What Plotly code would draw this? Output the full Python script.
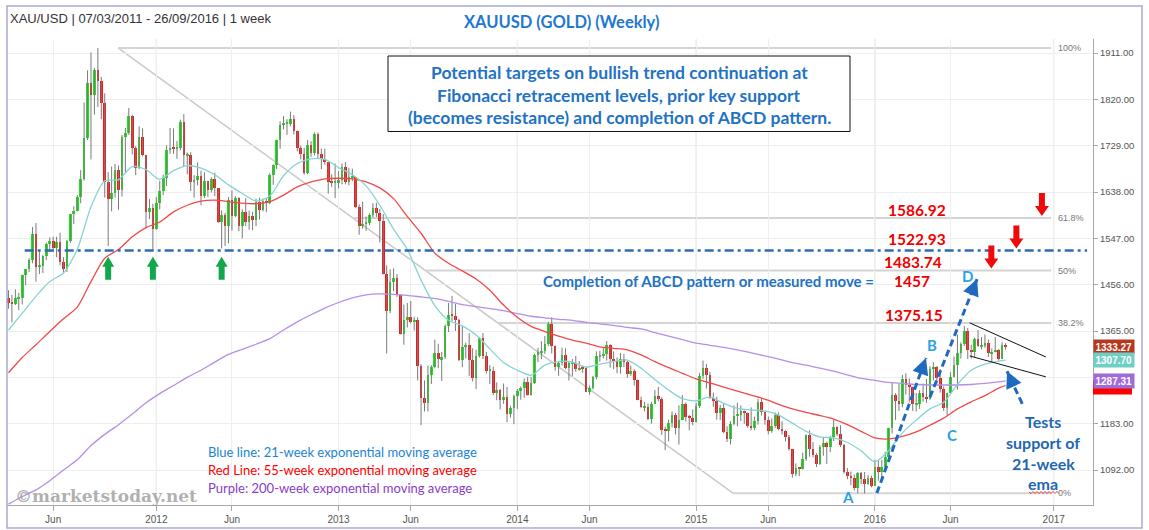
import pandas as pd
import plotly.graph_objects as go

# ---------------- data ----------------
week_start = '2011-03-07'
n_weeks = 291
first_open = 1429

close_2011 = [1421, 1419, 1429, 1429, 1475, 1486, 1504, 1556, 1491, 1493, 1512, 1536, 1542, 1529, 1539,
              1501, 1486, 1542, 1594, 1601, 1628, 1663, 1744, 1852, 1829, 1877, 1857, 1813, 1657, 1624,
              1636, 1682, 1642, 1747, 1753, 1788, 1725, 1686, 1746, 1711, 1598, 1606, 1566]
high_2011 = [1445, 1436, 1447, 1440, 1476, 1487, 1508, 1569, 1577, 1522, 1514, 1539, 1549, 1550, 1550,
             1558, 1510, 1544, 1595, 1610, 1632, 1681, 1814, 1877, 1912, 1882, 1921, 1864, 1832, 1677,
             1688, 1693, 1690, 1750, 1764, 1803, 1790, 1728, 1767, 1763, 1711, 1624, 1615]
low_2011 = [1409, 1382, 1416, 1406, 1417, 1455, 1481, 1498, 1462, 1477, 1479, 1504, 1520, 1520, 1510,
            1494, 1478, 1481, 1538, 1575, 1600, 1616, 1660, 1740, 1702, 1790, 1805, 1781, 1627, 1532,
            1600, 1627, 1603, 1629, 1675, 1750, 1712, 1671, 1683, 1708, 1567, 1585, 1523]

close_2012 = [1617, 1640, 1665, 1721, 1725, 1724, 1724, 1776, 1710, 1710, 1657, 1662, 1669, 1631, 1660,
              1642, 1663, 1645, 1580, 1592, 1572, 1622, 1590, 1626, 1572, 1598, 1579, 1591, 1583, 1619,
              1603, 1620, 1616, 1671, 1691, 1740, 1770, 1772, 1772, 1781, 1757, 1725, 1712, 1676, 1731,
              1714, 1751, 1712, 1702, 1697, 1657, 1656, 1656]
high_2012 = [1628, 1660, 1672, 1730, 1764, 1763, 1738, 1780, 1791, 1716, 1716, 1671, 1696, 1680, 1677,
             1660, 1667, 1676, 1646, 1602, 1597, 1628, 1641, 1630, 1628, 1604, 1626, 1601, 1599, 1625,
             1627, 1625, 1626, 1675, 1692, 1741, 1777, 1787, 1781, 1796, 1789, 1759, 1729, 1725, 1740,
             1738, 1755, 1755, 1723, 1723, 1697, 1673, 1694]
low_2012 = [1564, 1604, 1632, 1650, 1713, 1713, 1703, 1720, 1689, 1673, 1640, 1627, 1651, 1612, 1626,
            1628, 1637, 1630, 1577, 1527, 1532, 1537, 1562, 1589, 1561, 1547, 1571, 1564, 1563, 1571,
            1584, 1600, 1598, 1614, 1652, 1683, 1723, 1761, 1750, 1767, 1751, 1718, 1702, 1672, 1673,
            1707, 1710, 1705, 1683, 1692, 1635, 1648, 1626]

close_2013 = [1662, 1687, 1658, 1667, 1667, 1609, 1572, 1576, 1577, 1592, 1607, 1596, 1581, 1476, 1404,
              1462, 1470, 1436, 1360, 1386, 1393, 1383, 1387, 1297, 1234, 1223, 1278, 1294, 1322, 1310,
              1313, 1375, 1396, 1395, 1387, 1308, 1333, 1338, 1309, 1272, 1315, 1352, 1315, 1287, 1287,
              1243, 1250, 1230, 1235, 1203, 1213, 1237]
high_2013 = [1679, 1694, 1697, 1685, 1684, 1668, 1614, 1619, 1590, 1596, 1616, 1617, 1605, 1595, 1494,
             1486, 1488, 1477, 1436, 1417, 1420, 1424, 1393, 1392, 1300, 1268, 1297, 1298, 1348, 1340,
             1324, 1378, 1420, 1434, 1418, 1389, 1375, 1342, 1361, 1331, 1328, 1353, 1361, 1324, 1298,
             1295, 1264, 1251, 1262, 1255, 1218, 1240]
low_2013 = [1645, 1653, 1653, 1651, 1659, 1606, 1554, 1566, 1562, 1573, 1588, 1589, 1539, 1476, 1321,
            1400, 1443, 1432, 1358, 1338, 1372, 1380, 1366, 1268, 1180, 1207, 1207, 1261, 1292, 1292,
            1267, 1310, 1363, 1384, 1365, 1306, 1294, 1311, 1277, 1266, 1251, 1313, 1310, 1281, 1261,
            1239, 1229, 1211, 1222, 1186, 1195, 1182]

close_2014 = [1248, 1254, 1265, 1240, 1263, 1318, 1323, 1326, 1339, 1379, 1335, 1294, 1303, 1318, 1293,
              1302, 1302, 1290, 1293, 1292, 1245, 1253, 1274, 1315, 1316, 1320, 1337, 1310, 1307, 1294,
              1311, 1305, 1281, 1287, 1268, 1229, 1215, 1215, 1192, 1222, 1238, 1231, 1171, 1169, 1185,
              1201, 1175, 1191, 1222, 1196, 1195, 1187]
high_2014 = [1251, 1256, 1272, 1275, 1275, 1320, 1332, 1345, 1355, 1383, 1392, 1337, 1305, 1332, 1331,
             1306, 1310, 1316, 1306, 1297, 1295, 1258, 1277, 1325, 1326, 1332, 1345, 1339, 1325, 1313,
             1322, 1320, 1306, 1297, 1290, 1270, 1236, 1226, 1223, 1226, 1249, 1255, 1235, 1177, 1191,
             1207, 1204, 1219, 1239, 1225, 1200, 1211]
low_2014 = [1212, 1230, 1234, 1238, 1238, 1261, 1304, 1310, 1320, 1335, 1321, 1287, 1277, 1297, 1290,
            1268, 1277, 1285, 1287, 1283, 1245, 1240, 1250, 1270, 1305, 1311, 1307, 1293, 1290, 1282,
            1281, 1294, 1273, 1277, 1258, 1229, 1214, 1207, 1190, 1183, 1222, 1227, 1161, 1131, 1148,
            1176, 1162, 1142, 1190, 1187, 1170, 1180]

close_2015 = [1217, 1277, 1293, 1278, 1234, 1227, 1204, 1213, 1166, 1152, 1182, 1199, 1201, 1207, 1204,
              1178, 1174, 1189, 1225, 1205, 1190, 1168, 1179, 1201, 1173, 1168, 1157, 1133, 1085, 1095,
              1094, 1113, 1160, 1134, 1121, 1103, 1138, 1145, 1137, 1156, 1177, 1163, 1142, 1088, 1081,
              1076, 1057, 1086, 1075, 1065, 1076, 1061]
high_2015 = [1224, 1283, 1307, 1300, 1285, 1244, 1236, 1220, 1223, 1178, 1188, 1219, 1224, 1219, 1209,
             1205, 1215, 1197, 1232, 1232, 1207, 1197, 1193, 1205, 1205, 1188, 1170, 1161, 1133, 1105,
             1098, 1126, 1162, 1170, 1147, 1125, 1141, 1157, 1148, 1159, 1191, 1178, 1180, 1143, 1096,
             1089, 1083, 1088, 1088, 1088, 1082, 1081]
low_2015 = [1185, 1214, 1271, 1252, 1232, 1216, 1191, 1190, 1164, 1147, 1142, 1180, 1178, 1188, 1183,
            1175, 1170, 1170, 1181, 1199, 1181, 1162, 1165, 1175, 1170, 1162, 1148, 1130, 1077, 1080,
            1080, 1093, 1110, 1118, 1117, 1098, 1102, 1120, 1104, 1127, 1149, 1159, 1137, 1085, 1074,
            1062, 1052, 1046, 1064, 1046, 1063, 1058]

close_2016 = [1098, 1089, 1097, 1118, 1174, 1239, 1228, 1221, 1271, 1259, 1255, 1221, 1222, 1243, 1235,
              1232, 1291, 1294, 1272, 1252, 1213, 1243, 1275, 1298, 1322, 1340, 1366, 1327, 1323, 1350,
              1335, 1336, 1341, 1321, 1324, 1328, 1310, 1338, 1333.27]
high_2016 = [1112, 1112, 1112, 1128, 1175, 1263, 1243, 1261, 1279, 1282, 1272, 1256, 1243, 1249, 1262,
             1271, 1296, 1304, 1296, 1290, 1256, 1244, 1284, 1315, 1358, 1343, 1375, 1371, 1338, 1352,
             1367, 1353, 1358, 1348, 1331, 1353, 1330, 1343, 1341]
low_2016 = [1061, 1071, 1078, 1096, 1110, 1164, 1190, 1208, 1215, 1240, 1225, 1208, 1207, 1212, 1226,
            1224, 1230, 1268, 1261, 1244, 1208, 1200, 1243, 1274, 1250, 1311, 1336, 1310, 1311, 1313,
            1334, 1329, 1332, 1314, 1303, 1323, 1307, 1310, 1328]

# moving averages read every 4th week (plus the last week)
ema21 = [1367, 1400, 1433, 1462, 1479, 1525, 1609, 1660, 1662, 1688,
         1682, 1663, 1680, 1690, 1685, 1672, 1652, 1635, 1620, 1630,
         1670, 1694, 1703, 1702, 1686, 1672, 1650, 1612, 1565, 1525,
         1465, 1415, 1386, 1375, 1357, 1330, 1303, 1288, 1278, 1298,
         1305, 1304, 1294, 1300, 1305, 1308, 1292, 1270, 1249, 1232,
         1228, 1235, 1223, 1213, 1210, 1208, 1200, 1184, 1168, 1157,
         1155, 1146, 1130, 1108, 1130, 1165, 1190, 1212, 1225, 1260,
         1288, 1300, 1306, 1308]
ema55 = [1283, 1313, 1338, 1364, 1389, 1412, 1462, 1508, 1525, 1550,
         1568, 1579, 1599, 1612, 1620, 1622, 1619, 1616, 1615, 1619,
         1632, 1648, 1658, 1664, 1665, 1664, 1658, 1646, 1625, 1590,
         1557, 1518, 1498, 1483, 1467, 1445, 1416, 1392, 1374, 1364,
         1355, 1347, 1341, 1334, 1331, 1328, 1318, 1305, 1293, 1282,
         1271, 1263, 1255, 1247, 1239, 1231, 1221, 1212, 1205, 1199,
         1192, 1181, 1168, 1155, 1153, 1158, 1167, 1180, 1194, 1212,
         1226, 1238, 1253, 1258]
ema200 = [1025, 1040, 1053, 1071, 1092, 1112, 1140, 1162, 1181, 1202,
          1224, 1242, 1258, 1274, 1288, 1304, 1319, 1329, 1339, 1350,
          1367, 1383, 1397, 1410, 1421, 1430, 1436, 1438, 1437, 1435,
          1432, 1429, 1423, 1417, 1413, 1409, 1405, 1399, 1394, 1391,
          1388, 1386, 1382, 1379, 1376, 1372, 1369, 1362, 1355, 1348,
          1341, 1337, 1333, 1328, 1322, 1316, 1310, 1303, 1298, 1292,
          1286, 1279, 1272, 1268, 1264, 1262, 1260, 1259, 1259, 1259,
          1260, 1262, 1265, 1267]

tag_texts = ['1333.27', '1307.70', '1287.31']

fib_high, fib_low = 1920.94, 1046.54
fib_ratios = [1.0, 0.618, 0.5, 0.382, 0.0]
fib_labels = ['100%', '61.8%', '50%', '38.2%', '0%']
fib_dates = ['2011-10-16', '2015-03-21', '2016-12-28']   # trend start, trend end, level end

support_level = 1522.93
support_dates = ['2011-04-09', '2017-03-11']
support_touch_dates = ['2011-09-26', '2011-12-26', '2012-05-14']
support_arrow_tip = 1511

target_levels = [1586.92, 1522.93, 1483.74]
target_arrow_dates = ['2016-12-09', '2016-10-18', '2016-08-28']

leg_ab = [('2016-01-08', 1046.8), ('2016-04-17', 1312)]
leg_cd = [('2016-04-25', 1235), ('2016-07-30', 1467)]
test_arrow = [('2016-10-30', 1222), ('2016-09-29', 1286)]
tri_upper = [('2016-07-15', 1381), ('2016-12-17', 1314)]
tri_lower = [('2016-07-15', 1316), ('2016-12-17', 1275)]

tick_dates = ['2011-06-06', '2012-01-02', '2012-06-04', '2013-01-07', '2013-06-03', '2014-01-06',
              '2014-06-02', '2015-01-05', '2015-06-01', '2016-01-04', '2016-06-06', '2017-01-02']
tick_text = ['Jun', '2012', 'Jun', '2013', 'Jun', '2014', 'Jun', '2015', 'Jun', '2016', 'Jun', '2017']
price_ticks = [1092, 1183, 1274, 1365, 1456, 1547, 1638, 1729, 1820, 1911]
hidden_price_ticks = [1274]   # covered by the price tags in the reference
y_range = [1023.3, 1938.5]

# ---------------- derived ----------------
closes = close_2011 + close_2012 + close_2013 + close_2014 + close_2015 + close_2016
highs = high_2011 + high_2012 + high_2013 + high_2014 + high_2015 + high_2016
lows = low_2011 + low_2012 + low_2013 + low_2014 + low_2015 + low_2016
dates = pd.date_range(week_start, periods=n_weeks, freq='7D')
opens = [first_open] + closes[:-1]
ema_dates = list(dates[::4]) + [dates[-1]]
price_tick_text = ['' if v in hidden_price_ticks else '%.2f' % v for v in price_ticks]

# ---------------- geometry helpers (pixels -> paper) ----------------
W, H = 1149, 530
PL, PR, PT, PB = 7, 1093, 39, 505


def PX(x):
    return (x - PL) / (PR - PL)


def PY(y):
    return (PB - y) / (PB - PT)


def price_to_paper(p):
    return (p - y_range[0]) / (y_range[1] - y_range[0])


GREEN = '#19e619'
RED = '#ff1414'
WICK = '#7a7a7a'

fig = go.Figure()

# wicks
wx, wy = [], []
for d, lo, hi in zip(dates, lows, highs):
    wx += [d, d, None]
    wy += [lo, hi, None]
fig.add_trace(go.Scatter(x=wx, y=wy, mode='lines', line=dict(color=WICK, width=1), hoverinfo='skip'))

# bodies
up_x, up_b, up_h, dn_x, dn_b, dn_h = [], [], [], [], [], []
for d, o, c in zip(dates, opens, closes):
    h = max(abs(c - o), 2.0)
    if c >= o:
        up_x.append(d); up_b.append(min(o, c)); up_h.append(h)
    else:
        dn_x.append(d); dn_b.append(min(o, c)); dn_h.append(h)
bw = 5.4 * 86400000
fig.add_trace(go.Bar(x=up_x, y=up_h, base=up_b, width=bw, marker=dict(color=GREEN, line=dict(width=0))))
fig.add_trace(go.Bar(x=dn_x, y=dn_h, base=dn_b, width=bw, marker=dict(color=RED, line=dict(width=0))))

# moving averages
for vals, col in [(ema200, '#b48fe6'), (ema55, '#f24848'), (ema21, '#86d4d2')]:
    fig.add_trace(go.Scatter(x=ema_dates, y=vals, mode='lines',
                             line=dict(color=col, width=1.3, shape='spline', smoothing=0.7),
                             hoverinfo='skip'))

shapes = []
# darker year grid lines
for d, t in zip(tick_dates, tick_text):
    if t != 'Jun':
        shapes.append(dict(type='line', xref='x', yref='paper', x0=d, x1=d, y0=0, y1=1,
                           line=dict(color='#d9d9d9', width=1), layer='below'))

# fibonacci retracement
t0, t1 = pd.Timestamp(fib_dates[0]), pd.Timestamp(fib_dates[1])
shapes.append(dict(type='line', xref='x', yref='y', x0=fib_dates[0], y0=fib_high, x1=fib_dates[1], y1=fib_low,
                   line=dict(color='#c9c9c9', width=1.5), layer='below'))
annotations = []
for r, lab in zip(fib_ratios, fib_labels):
    lvl = fib_low + r * (fib_high - fib_low)
    frac = (fib_high - lvl) / (fib_high - fib_low)
    start = t0 + (t1 - t0) * frac
    shapes.append(dict(type='line', xref='x', yref='y', x0=start, x1=fib_dates[2], y0=lvl, y1=lvl,
                       line=dict(color='#d4d4d4', width=2), layer='below'))
    annotations.append(dict(text=lab, xref='paper', yref='y', x=PX(1056), y=lvl, xanchor='left',
                            yanchor='middle', showarrow=False,
                            font=dict(family='Liberation Sans, Arial', size=9, color='#777')))

# prior key support (dash-dot)
shapes.append(dict(type='line', xref='x', yref='y', x0=support_dates[0], x1=support_dates[1],
                   y0=support_level, y1=support_level,
                   line=dict(color='#2b6cb6', width=2.5, dash='9px,4px,3px,4px'), layer='above'))

# green up arrows under the support touches
for d in support_touch_dates:
    shapes.append(dict(type='path', xref='x', yref='y', xsizemode='pixel', ysizemode='pixel',
                       xanchor=d, yanchor=support_arrow_tip,
                       path='M 0 0 L 6 -10 L 3 -10 L 3 -23 L -3 -23 L -3 -10 L -6 -10 Z',
                       fillcolor='#11a84c', line=dict(width=0), layer='above'))

# red down arrows at the targets
for d, lvl in zip(target_arrow_dates, target_levels):
    shapes.append(dict(type='path', xref='x', yref='y', xsizemode='pixel', ysizemode='pixel',
                       xanchor=d, yanchor=lvl,
                       path='M 0 2 L 7 12 L 3 12 L 3 25 L -3 25 L -3 12 L -7 12 Z',
                       fillcolor='#f00a0a', line=dict(width=0), layer='above'))

# ABCD legs, test arrow, triangle
BLUE_D = '#1f69c0'
for seg in [leg_ab, leg_cd, test_arrow]:
    (xa, ya), (xb, yb) = seg
    shapes.append(dict(type='line', xref='x', yref='y', x0=xa, y0=ya, x1=xb, y1=yb,
                       line=dict(color=BLUE_D, width=3, dash='7px,4px'), layer='above'))
for seg in [tri_upper, tri_lower]:
    (xa, ya), (xb, yb) = seg
    shapes.append(dict(type='line', xref='x', yref='y', x0=xa, y0=ya, x1=xb, y1=yb,
                       line=dict(color='#111', width=1), layer='above'))
for (xb, yb), ax, ay in [(leg_ab[1], -4, 11), (leg_cd[1], -4.5, 11), (test_arrow[1], 5, 11)]:
    annotations.append(dict(x=xb, y=yb, xref='x', yref='y', ax=ax, ay=ay, text='', showarrow=True,
                            arrowhead=2, arrowsize=1.1, arrowwidth=3, arrowcolor=BLUE_D, standoff=0))

# text box
shapes.append(dict(type='rect', xref='paper', yref='paper', x0=PX(388), x1=PX(850), y0=PY(131.5), y1=PY(56),
                   line=dict(color='#111', width=1), fillcolor='white', layer='above'))
# outer frame
shapes.append(dict(type='rect', xref='paper', yref='paper', x0=PX(7), x1=PX(1142), y0=PY(528), y1=PY(6),
                   line=dict(color='#a9a9d3', width=1.5), layer='above'))
# red spell-check squiggle under "ema"
zz = 'M %f %f' % (PX(1029), PY(492))
for i, xx in enumerate(range(1031, 1061, 2)):
    zz += ' L %f %f' % (PX(xx), PY(493.5 if i % 2 == 0 else 491.5))
shapes.append(dict(type='path', xref='paper', yref='paper', path=zz,
                   line=dict(color='#e01010', width=0.8), layer='above'))
# 55-week ema price tag, mostly hidden behind the 200-week tag
px_unit = 1.0 / (PB - PT)
red_c = price_to_paper(ema55[-1])
shapes.append(dict(type='rect', xref='paper', yref='paper',
                   x0=1.0, x1=PX(1132), y0=red_c - 9 * px_unit, y1=red_c + 5 * px_unit,
                   fillcolor='#ff0000', line=dict(width=0), layer='above'))


def txt(text, x, y, size, color, family='Lato', bold=True, xanchor='center'):
    return dict(text=('<b>%s</b>' % text) if bold else text, x=PX(x), y=PY(y), xref='paper', yref='paper',
                xanchor=xanchor, yanchor='middle', showarrow=False,
                font=dict(family=family, size=size, color=color))


annotations += [
    txt('XAU/USD | 07/03/2011 - 26/09/2016 | 1 week', 8, 18, 13, '#333', family='Liberation Sans, Arial',
        bold=False, xanchor='left'),
    txt('XAUUSD (GOLD) (Weekly)', 562, 22, 16.5, '#1f78cf'),
    txt('Potential targets on bullish trend continuation at', 619, 72, 17.5, '#1f72c4'),
    txt('Fibonacci retracement levels, prior key support', 619, 95, 17.5, '#1f72c4'),
    txt('(becomes resistance) and completion of ABCD pattern.', 619, 117, 17.5, '#1f72c4'),
    txt('Completion of ABCD pattern or measured move =', 541, 281, 15, '#1f72c4', xanchor='left'),
    txt('1586.92', 917, 210, 15.5, '#f00000'),
    txt('1522.93', 917, 239, 15.5, '#f00000'),
    txt('1483.74', 913, 262, 15.5, '#f00000'),
    txt('1457', 912, 281, 15.5, '#f00000'),
    txt('1375.15', 914, 315, 15.5, '#f00000'),
    txt('A', 848, 497, 15, '#29a2e6'),
    txt('B', 932, 345, 15, '#29a2e6'),
    txt('C', 952, 435, 15, '#29a2e6'),
    txt('D', 967, 276, 15, '#29a2e6'),
    txt('Tests', 1043, 421, 16, '#1f66b4'),
    txt('support of', 1043, 442, 16, '#1f66b4'),
    txt('21-week', 1043, 463, 16, '#1f66b4'),
    txt('ema', 1043, 483, 16, '#1f66b4'),
    txt('Blue line: 21-week exponential moving average', 206, 452, 13, '#1a84d6', bold=False, xanchor='left'),
    txt('Red Line: 55-week exponential moving average', 206, 470, 13, '#ff0000', bold=False, xanchor='left'),
    txt('Purple: 200-week exponential moving average', 206, 488, 13, '#8a3cc8', bold=False, xanchor='left'),
    txt('©marketstoday.net', 13, 496, 17, 'rgba(150,150,150,0.75)', family='DejaVu Serif', xanchor='left'),
]

# price tags on the right axis
for text, yv, bg in [(tag_texts[0], closes[-1], '#b8361c'), (tag_texts[1], ema21[-1], '#6fcfc7'),
                     (tag_texts[2], ema200[-1], '#a06ad8')]:
    annotations.append(dict(text='<b>%s</b>' % text, xref='paper', yref='y', x=1.0, y=yv, xanchor='left',
                            yanchor='middle', showarrow=False, bgcolor=bg, borderpad=1.5,
                            font=dict(family='Liberation Sans, Arial', size=10, color='white')))

fig.update_layout(
    template='none',
    width=W, height=H,
    margin=dict(l=PL, r=W - PR, t=PT, b=H - PB, pad=0),
    paper_bgcolor='white', plot_bgcolor='white',
    showlegend=False, barmode='overlay', bargap=0, hovermode=False,
    shapes=shapes, annotations=annotations,
    xaxis=dict(type='date', range=['2011-03-04', '2017-03-23'], tickvals=tick_dates, ticktext=tick_text,
               showgrid=True, gridcolor='#eeeeee', gridwidth=1, showline=True, linecolor='#a8a8a8',
               linewidth=1, ticks='outside', ticklen=5, tickcolor='#a8a8a8', zeroline=False,
               automargin=False, tickfont=dict(family='Liberation Sans, Arial', size=10, color='#555')),
    yaxis=dict(side='right', range=y_range, tickvals=price_ticks, ticktext=price_tick_text,
               showgrid=True, gridcolor='#eeeeee', gridwidth=1, showline=True, linecolor='#a8a8a8',
               linewidth=1, ticks='outside', ticklen=4, tickcolor='#a8a8a8', zeroline=False,
               automargin=False, tickfont=dict(family='Liberation Sans, Arial', size=9.5, color='#555')),
)

fig.write_html('out.html', config={'displayModeBar': False},
               post_script="document.body.style.margin='0px';")
